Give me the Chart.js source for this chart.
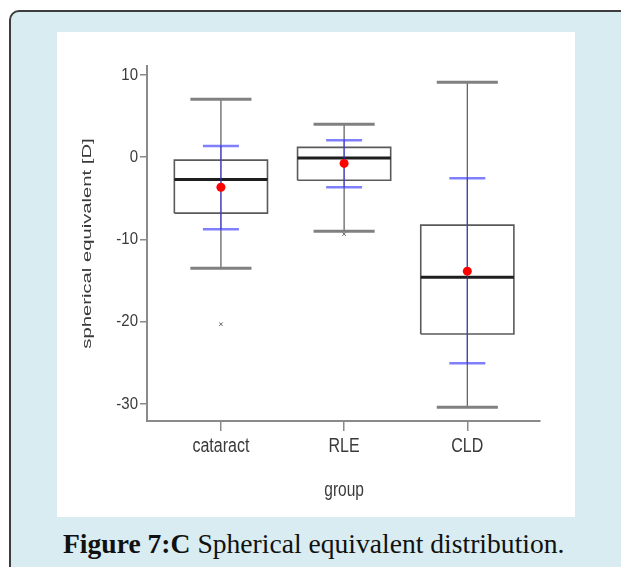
<!DOCTYPE html>
<html>
<head>
<meta charset="utf-8">
<script src="https://cdn.jsdelivr.net/npm/chart.js@4.4.1/dist/chart.umd.min.js"></script>
<style>
  html, body { margin: 0; padding: 0; background: #fff; width: 621px; height: 567px; overflow: hidden; }
  #frame { position: absolute; left: 9px; top: 10px; width: 660px; height: 620px; box-sizing: border-box;
           background: #d8ecf1; border: 2px solid #3d3d3d; border-radius: 10px; }
  #panel { position: absolute; left: 57px; top: 32px; width: 518px; height: 485px; background: #fff; }
  #caption { position: absolute; left: 63px; top: 530px; white-space: nowrap; line-height: 27px;
             font-family: "Liberation Serif", serif; font-size: 27.6px; color: #111; }
  #caption b { font-weight: bold; }
</style>
</head>
<body>
<div id="frame"></div>
<div id="panel"><canvas id="boxChart"></canvas></div>
<div id="caption"><b>Figure 7:C</b> Spherical equivalent distribution.</div>
<script>
// values
const groups = ['cataract', 'RLE', 'CLD'];
const upperWhisker = [7.05, 4.0, 9.1];
const upperQuartile = [-0.35, 1.2, -8.25];
const medians = [-2.7, -0.1, -14.6];
const lowerQuartile = [-6.8, -2.8, -21.5];
const lowerWhisker = [-13.5, -9.0, -30.4];
const means = [-3.65, -0.75, -13.85];
const sdUpper = [1.35, 2.05, -2.55];
const sdLower = [-8.75, -3.65, -25.05];
const outliers = [[-20.3], [-9.35], []];
const yTicks = [10, 0, -10, -20, -30];
const yTitle = 'spherical equivalent [D]';
const xTitle = 'group';

// half widths in x units (one group = 1 unit)
const BOX_HALF = 0.378, CAP_HALF = 0.248, SD_HALF = 0.146;
const TEXT = '#3a3a3a';
const sans = '"Liberation Sans", Arial, sans-serif';

function seg(points, color, width, order) {
    return {
        data: points,
        showLine: true,
        borderColor: color,
        borderWidth: width,
        pointRadius: 0,
        fill: false,
        tension: 0,
        order: order
    };
}

const datasets = [];
groups.forEach((g, i) => {
    const x = i + 1;
    // whisker line and caps
    datasets.push(seg([{x: x, y: upperWhisker[i]}, {x: x, y: lowerWhisker[i]}], '#5a5a5a', 1.2, 5));
    datasets.push(seg([{x: x - CAP_HALF, y: upperWhisker[i]}, {x: x + CAP_HALF, y: upperWhisker[i]}], '#808080', 3, 4));
    datasets.push(seg([{x: x - CAP_HALF, y: lowerWhisker[i]}, {x: x + CAP_HALF, y: lowerWhisker[i]}], '#808080', 3, 4));
    // box
    datasets.push(seg([
        {x: x - BOX_HALF, y: lowerQuartile[i]},
        {x: x + BOX_HALF, y: lowerQuartile[i]},
        {x: x + BOX_HALF, y: upperQuartile[i]},
        {x: x - BOX_HALF, y: upperQuartile[i]},
        {x: x - BOX_HALF, y: lowerQuartile[i]}
    ], '#5a5a5a', 1.6, 4));
    // median
    datasets.push(seg([{x: x - BOX_HALF, y: medians[i]}, {x: x + BOX_HALF, y: medians[i]}], '#1e1e1e', 3, 3));
    // mean +- sd in blue
    datasets.push(seg([{x: x, y: sdUpper[i]}, {x: x, y: sdLower[i]}], 'rgba(50,50,255,0.7)', 1.2, 2));
    datasets.push(seg([{x: x - SD_HALF, y: sdUpper[i]}, {x: x + SD_HALF, y: sdUpper[i]}], 'rgba(60,60,255,0.65)', 2.5, 2));
    datasets.push(seg([{x: x - SD_HALF, y: sdLower[i]}, {x: x + SD_HALF, y: sdLower[i]}], 'rgba(60,60,255,0.65)', 2.5, 2));
});

datasets.push({
    data: means.map((m, i) => ({x: i + 1, y: m})),
    showLine: false,
    pointRadius: 4.5,
    pointStyle: 'circle',
    backgroundColor: '#ff0000',
    borderColor: '#ff0000',
    borderWidth: 0,
    order: 0
});

const outlierPoints = [];
outliers.forEach((list, i) => list.forEach(v => outlierPoints.push({x: i + 1, y: v})));
datasets.push({
    data: outlierPoints,
    showLine: false,
    pointRadius: 2.5,
    pointStyle: 'crossRot',
    borderColor: '#666',
    borderWidth: 1,
    order: 1
});

function stretchedText(ctx, text, x, y, size, sy, align) {
    ctx.save();
    ctx.translate(x, y);
    ctx.scale(1, sy);
    ctx.font = size + 'px ' + sans;
    ctx.fillStyle = TEXT;
    ctx.textAlign = align;
    ctx.textBaseline = 'middle';
    ctx.fillText(text, 0, 0);
    ctx.restore();
}

// the original export has tall, narrow lettering, so labels are drawn here
const labelPlugin = {
    id: 'stretchedLabels',
    afterDraw(chart) {
        const {ctx, chartArea, scales} = chart;
        yTicks.forEach(v => {
            stretchedText(ctx, String(v), chartArea.left - 9, scales.y.getPixelForValue(v), 15, 1.15, 'right');
        });
        groups.forEach((g, i) => {
            stretchedText(ctx, g, scales.x.getPixelForValue(i + 1), chartArea.bottom + 25, 16, 1.25, 'center');
        });
        stretchedText(ctx, xTitle, scales.x.getPixelForValue(2), chartArea.bottom + 70, 15.5, 1.25, 'center');

        ctx.save();
        ctx.translate(chartArea.left - 60, (chartArea.top + chartArea.bottom) / 2);
        ctx.rotate(-Math.PI / 2);
        ctx.scale(1.5, 1);
        ctx.font = '13.5px ' + sans;
        ctx.fillStyle = TEXT;
        ctx.textAlign = 'center';
        ctx.textBaseline = 'middle';
        ctx.fillText(yTitle, 0, 0);
        ctx.restore();
    }
};

new Chart(document.getElementById('boxChart'), {
    type: 'scatter',
    data: { datasets: datasets },
    options: {
        responsive: true,
        maintainAspectRatio: false,
        animation: false,
        layout: { padding: { left: 0, top: 34, right: 35, bottom: 0 } },
        plugins: { legend: { display: false }, tooltip: { enabled: false } },
        scales: {
            x: {
                type: 'linear',
                min: 0.4,
                max: 3.59,
                afterBuildTicks: s => { s.ticks = groups.map((g, i) => ({ value: i + 1 })); },
                afterFit: s => { s.height = 96; },
                grid: { display: true, drawOnChartArea: false, drawTicks: true, tickLength: 10, color: '#8a8a8a', lineWidth: 1.5 },
                border: { display: true, color: '#8a8a8a', width: 2 },
                ticks: { display: false }
            },
            y: {
                type: 'linear',
                min: -32.07,
                max: 11.09,
                afterBuildTicks: s => { s.ticks = yTicks.map(v => ({ value: v })); },
                afterFit: s => { s.width = 90; },
                grid: { display: true, drawOnChartArea: false, drawTicks: true, tickLength: 7, color: '#8a8a8a', lineWidth: 1.5 },
                border: { display: true, color: '#8a8a8a', width: 2 },
                ticks: { display: false }
            }
        }
    },
    plugins: [labelPlugin]
});
</script>
</body>
</html>
